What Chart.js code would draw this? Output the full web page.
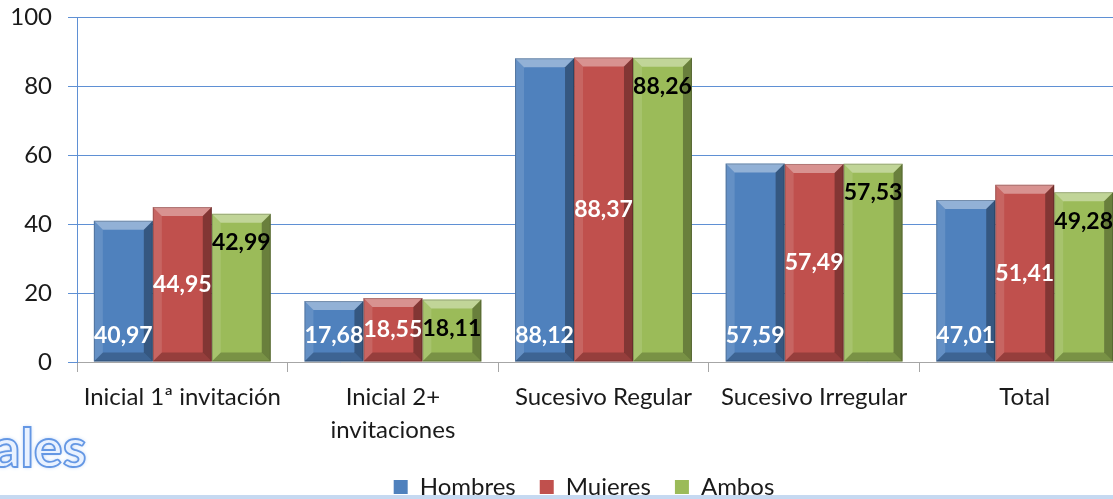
<!DOCTYPE html>
<html>
<head>
<meta charset="utf-8">
<script src="https://cdn.jsdelivr.net/npm/chart.js@4/dist/chart.umd.min.js"></script>
<style>
  html, body { margin: 0; padding: 0; background: #fff; overflow: hidden; }
  #wrap { position: relative; width: 1113px; height: 499px; overflow: hidden; }
  #box { position: absolute; left: 0; top: -13px; width: 1206px; height: 522px; }
  #title {
    position: absolute; left: -7px; top: 414px;
    font-family: Lato, sans-serif; font-size: 54px; font-weight: bold;
    color: #e8f1ff; -webkit-text-stroke: 1.8px #6497e4;
    text-shadow: 0 0 4px #a9c8f5;
  }
  #rule { position: absolute; left: 0; top: 495px; width: 1113px; height: 4px; background: #c6d9f1; }
</style>
</head>
<body>
<div id="wrap">
  <div id="title">ales</div>
  <div id="box"><canvas id="chart"></canvas></div>
  <div id="rule"></div>
</div>
<script>
const categories = [
  "Inicial 1ª invitación",
  ["Inicial 2+", "invitaciones"],
  "Sucesivo Regular",
  "Sucesivo Irregular",
  "Total"
];
const hombres = [40.97, 17.68, 88.12, 57.59, 47.01];
const mujeres = [44.95, 18.55, 88.37, 57.49, 51.41];
const ambos = [42.99, 18.11, 88.26, 57.53, 49.28];
const yTicks = [0, 20, 40, 60, 80, 100];

const FONT = "Lato, 'Open Sans', sans-serif";

// Excel-like bevel plus data labels (base / center / inside end)
const bevelLabels = {
  id: "bevelLabels",
  afterLayout(chart) {
    // legend is centred on the whole (wider) chart in the original
    chart.legend.left += 19;
    chart.legend.right += 19;
  },
  afterDatasetsDraw(chart) {
    const ctx = chart.ctx;
    chart.data.datasets.forEach((ds, i) => {
      const meta = chart.getDatasetMeta(i);
      meta.data.forEach((bar, j) => {
        const l = bar.x - bar.width / 2, r = bar.x + bar.width / 2;
        const t = bar.y, b = bar.base, s = 9;
        const poly = (pts, fill) => {
          ctx.beginPath();
          ctx.moveTo(pts[0][0], pts[0][1]);
          pts.slice(1).forEach(p => ctx.lineTo(p[0], p[1]));
          ctx.closePath();
          ctx.fillStyle = fill;
          ctx.fill();
        };
        ctx.save();
        poly([[l, t], [r, t], [r - s, t + s], [l + s, t + s]], "rgba(255,255,255,0.38)");
        poly([[l, t], [l + s, t + s], [l + s, b - s], [l, b]], "rgba(255,255,255,0.12)");
        poly([[r, t], [r, b], [r - s, b - s], [r - s, t + s]], "rgba(0,0,0,0.32)");
        poly([[l, b], [r, b], [r - s, b - s], [l + s, b - s]], "rgba(0,0,0,0.22)");
        ctx.strokeStyle = "rgba(0,0,0,0.2)";
        ctx.lineWidth = 1;
        ctx.strokeRect(l + 0.5, t + 0.5, bar.width - 1, b - t - 1);

        let y;
        if (i === 0) y = b - 26;
        else if (i === 1) y = (t + b) / 2;
        else y = t + 29;
        const txt = ds.data[j].toFixed(2).replace(".", ",");
        ctx.font = "bold 23px " + FONT;
        ctx.textAlign = "center";
        ctx.textBaseline = "middle";
        ctx.fillStyle = i === 2 ? "#000" : "#fff";
        ctx.fillText(txt, bar.x, y);
        ctx.restore();
      });
    });
  }
};

new Chart(document.getElementById("chart"), {
  type: "bar",
  data: {
    labels: categories,
    datasets: [
      { label: "Hombres", data: hombres, backgroundColor: "#4f81bd" },
      { label: "Mujeres", data: mujeres, backgroundColor: "#c0504d" },
      { label: "Ambos", data: ambos, backgroundColor: "#9bbb59" }
    ]
  },
  options: {
    responsive: true,
    maintainAspectRatio: false,
    animation: false,
    layout: { padding: { top: 6, right: 76, left: 0, bottom: 0 } },
    datasets: { bar: { categoryPercentage: 0.84, barPercentage: 1 } },
    scales: {
      x: {
        offset: true,
        grid: { offset: true, drawOnChartArea: false, drawTicks: true, tickLength: 10, color: "#a6a6a6" },
        border: { color: "#a6a6a6" },
        ticks: { color: "#1a1a1a", font: { family: FONT, size: 24, lineHeight: 1.375 }, padding: 9, maxRotation: 0 },
        afterFit(axis) { axis.height = 89; }
      },
      y: {
        min: 0,
        max: 100,
        afterBuildTicks(axis) { axis.ticks = yTicks.map(v => ({ value: v })); },
        grid: { color: "#5f90d4", tickLength: 9, lineWidth: 1 },
        border: { color: "#5f90d4" },
        ticks: { color: "#1a1a1a", font: { family: FONT, size: 24 }, padding: 16 },
        afterFit(axis) { axis.width = 77; }
      }
    },
    plugins: {
      legend: {
        position: "bottom",
        labels: { font: { family: FONT, size: 24 }, color: "#1a1a1a", boxWidth: 14, boxHeight: 14, padding: 24 }
      },
      tooltip: { enabled: false }
    }
  },
  plugins: [bevelLabels]
});
</script>
</body>
</html>
